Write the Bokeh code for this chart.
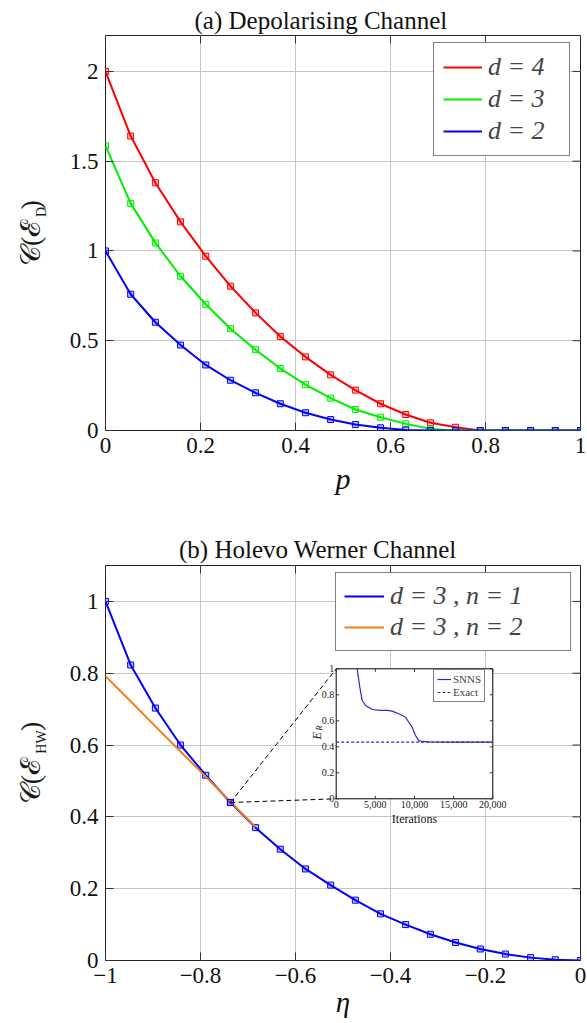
import math
from bokeh.plotting import figure
from bokeh.models import Range1d, FixedTicker, Label, Legend, LegendItem, LinearAxis, Title
from bokeh.layouts import column
from bokeh.embed import file_html
from bokeh.resources import INLINE
from bokeh.core.properties import value

# ------------------------------------------------------------------ data
p_vals = [0.0, 0.053, 0.105, 0.158, 0.211, 0.263, 0.316, 0.368, 0.421, 0.474,
          0.526, 0.579, 0.632, 0.684, 0.737, 0.789, 0.842, 0.895, 0.947, 1.0]
cap_d4 = [2.0, 1.64, 1.38, 1.162, 0.971, 0.804, 0.655, 0.524, 0.41, 0.31,
          0.225, 0.149, 0.089, 0.043, 0.018, 0.0, 0.0, 0.0, 0.0, 0.0]
cap_d3 = [1.585, 1.265, 1.045, 0.859, 0.703, 0.567, 0.45, 0.345, 0.255, 0.18,
          0.117, 0.074, 0.037, 0.009, 0.0, 0.0, 0.0, 0.0, 0.0, 0.0]
cap_d2 = [1.0, 0.759, 0.603, 0.476, 0.365, 0.28, 0.21, 0.149, 0.099, 0.061,
          0.033, 0.015, 0.003, 0.0, 0.0, 0.0, 0.0, 0.0, 0.0, 0.0]
labels_a = ["d = 4", "d = 3", "d = 2"]

eta_vals = [-1.0, -0.947, -0.895, -0.842, -0.789, -0.737, -0.684, -0.632, -0.579, -0.526,
            -0.474, -0.421, -0.368, -0.316, -0.263, -0.211, -0.158, -0.105, -0.053, 0.0]
cap_hw_n1 = [1.0, 0.823, 0.703, 0.6, 0.516, 0.44, 0.37, 0.31, 0.255, 0.21,
             0.168, 0.13, 0.1, 0.073, 0.05, 0.032, 0.018, 0.008, 0.002, 0.0]
eta_n2 = [-1.0, -0.947, -0.895, -0.842, -0.789, -0.737, -0.684]
cap_hw_n2 = [0.792, 0.722, 0.652, 0.582, 0.512, 0.442, 0.372]
labels_b = ["d = 3 , n = 1", "d = 3 , n = 2"]
zoom_eta, zoom_cap = -0.737, 0.44

iters = [2680, 3015, 3320, 3740, 4600, 5660, 6510, 7150, 8210, 8850, 9270,
         9700, 10130, 10550, 10980, 12000, 15000, 20000]
snns = [1.0, 0.859, 0.756, 0.718, 0.687, 0.68, 0.68, 0.674, 0.648, 0.628, 0.589,
        0.551, 0.487, 0.448, 0.441, 0.437, 0.436, 0.436]
exact_val = 0.436

xt_a = [0, 0.2, 0.4, 0.6, 0.8, 1]
xl_a = ["0", "0.2", "0.4", "0.6", "0.8", "1"]
yt_a = [0, 0.5, 1, 1.5, 2]
yl_a = ["0", "0.5", "1", "1.5", "2"]
xt_b = [-1, -0.8, -0.6, -0.4, -0.2, 0]
xl_b = ["\u22121", "\u22120.8", "\u22120.6", "\u22120.4", "\u22120.2", "0"]
yt_b = [0, 0.2, 0.4, 0.6, 0.8, 1]
yl_b = ["0", "0.2", "0.4", "0.6", "0.8", "1"]
it_ticks = [0, 5000, 10000, 15000, 20000]
it_labels = ["0", "5,000", "10,000", "15,000", "20,000"]
er_ticks = [0, 0.2, 0.4, 0.6, 0.8, 1]
er_labels = ["0", "0.2", "0.4", "0.6", "0.8", "1"]

# ------------------------------------------------------------------ layout
SERIF = "Liberation Serif"
RED, GREEN, BLUE, ORANGE = "#ff0000", "#00ee00", "#0000ff", "#f0801a"
W = 587
FL, FR = 105, 580
TICK = 8
H_A = 505
H_B = 1023 - H_A


def geom(top, bot, x0, x1, y0, y1):
    return dict(top=top, bot=bot, x0=x0, x1=x1, y0=y0, y1=y1)


GA = geom(35, 430, 0.0, 1.0, 0.0, 2.2)
GB = geom(565, 960, -1.0, 0.0, 0.0, 1.1)


def dx(g, px):
    return g["x0"] + (px - FL) / (FR - FL) * (g["x1"] - g["x0"])


def dy(g, py):
    return g["y0"] + (g["bot"] - py) / (g["bot"] - g["top"]) * (g["y1"] - g["y0"])


def style_axis(a, ticks, labels):
    a.ticker = FixedTicker(ticks=ticks)
    a.major_label_overrides = {t: l for t, l in zip(ticks, labels)}
    a.axis_line_color = None
    a.major_tick_in = TICK
    a.major_tick_out = 0
    a.major_tick_line_color = "#333333"
    a.minor_tick_line_color = None
    a.major_label_text_font = SERIF
    a.major_label_text_color = "#111111"
    a.major_label_text_font_size = "23px"
    a.major_label_standoff = 7


def label_axis(text, size, standoff):
    a = LinearAxis(ticker=FixedTicker(ticks=[]), axis_line_color=None,
                   major_tick_line_color=None, minor_tick_line_color=None,
                   major_tick_in=0, major_tick_out=0, major_label_standoff=0)
    a.axis_label = text
    a.axis_label_text_font = SERIF
    a.axis_label_text_font_style = "normal"
    a.axis_label_text_font_size = size
    a.axis_label_text_color = "#1a1a1a"
    a.axis_label_standoff = standoff
    return a


def make_fig(g, height, fig_top, xt, xl, yt, yl, title, title_w, title_cx, title_standoff,
             xlabel, xlabel_size, xlabel_standoff, main_label, sub_label):
    f = figure(width=W, height=height,
               x_range=Range1d(g["x0"], g["x1"]), y_range=Range1d(g["y0"], g["y1"]),
               output_backend="svg", toolbar_location=None,
               min_border_left=FL, min_border_right=W - FR,
               min_border_top=g["top"] - fig_top,
               min_border_bottom=fig_top + height - g["bot"])
    f.outline_line_color = "#222222"
    f.outline_line_width = 1
    f.background_fill_color = "white"
    f.border_fill_color = "white"
    style_axis(f.xaxis[0], xt, xl)
    style_axis(f.yaxis[0], yt, yl)
    f.xaxis[0].axis_label = xlabel
    f.xaxis[0].axis_label_text_font = SERIF
    f.xaxis[0].axis_label_text_font_style = "italic"
    f.xaxis[0].axis_label_text_font_size = xlabel_size
    f.xaxis[0].axis_label_text_color = "#111111"
    f.xaxis[0].axis_label_standoff = xlabel_standoff
    # y label: subscript (closer to the ticks = lowered), then the main part
    f.add_layout(label_axis(sub_label, "14px", 18), "left")
    f.add_layout(label_axis(main_label, "28px", -15), "left")
    f.grid.grid_line_color = "#c6c6c6"
    f.grid.grid_line_width = 1
    # inward ticks on the top and right edges
    ty = TICK / (g["bot"] - g["top"]) * (g["y1"] - g["y0"])
    tx = TICK / (FR - FL) * (g["x1"] - g["x0"])
    f.segment(x0=xt, y0=[g["y1"]] * len(xt), x1=xt, y1=[g["y1"] - ty] * len(xt),
              line_color="#333333", line_width=1)
    f.segment(x0=[g["x1"]] * len(yt), y0=yt, x1=[g["x1"] - tx] * len(yt), y1=yt,
              line_color="#333333", line_width=1)
    f.add_layout(Title(text=title, text_font=SERIF, text_font_size="25px",
                       text_font_style="normal", text_color="#111111", align="left",
                       offset=title_cx - title_w / 2 - FL, standoff=title_standoff), "above")
    return f


def legend(items, loc, size, gw, lh, pad, sp, standoff, lw):
    return Legend(items=items, location=loc, label_text_font=SERIF,
                  label_text_font_style="italic", label_text_font_size=size,
                  glyph_width=gw, glyph_height=lh, label_height=lh, label_width=lw,
                  padding=pad, spacing=sp, label_standoff=standoff,
                  border_line_color="black", border_line_width=1,
                  background_fill_color="white", background_fill_alpha=1.0, margin=0)


def add_label(f, g, px, py, text, size, style="normal", align="center",
              baseline="alphabetic", angle=0.0):
    f.add_layout(Label(x=dx(g, px), y=dy(g, py), text=text, text_font=SERIF,
                       text_font_size=size, text_font_style=style, text_align=align,
                       text_baseline=baseline, angle=angle, text_color="#111111"))


EM, TH = "\u2003", "\u2009"

# ------------------------------------------------------------------ (a)
fa = make_fig(GA, H_A, 0, xt_a, xl_a, yt_a, yl_a, "(a) Depolarising Channel", 252, 320, 4,
              "p", "30px", 6, "\U0001D49E(\u2130" + TH * 2 + ")", EM * 3 + "D")
rends = []
for ys, col in zip([cap_d4, cap_d3, cap_d2], [RED, GREEN, BLUE]):
    r = fa.line(p_vals, ys, line_color=col, line_width=2)
    fa.scatter(p_vals, ys, marker="square", size=6, line_color=col, line_width=1,
               fill_color=col, fill_alpha=0.25)
    rends.append(r)
fa.add_layout(legend([LegendItem(label=l, renderers=[r]) for l, r in zip(labels_a, rends)],
                     (433 - FL, GA["bot"] - 156), "26px", 39, 30, 9, 2, 6, 72))

# ------------------------------------------------------------------ (b)
fb = make_fig(GB, H_B, H_A, xt_b, xl_b, yt_b, yl_b, "(b) Holevo Werner Channel", 280, 318.5, 6,
              "\u03b7", "29px", 0, "\U0001D49E(\u2130" + TH * 5 + ")", EM * 3 + "HW")
rb1 = fb.line(eta_vals, cap_hw_n1, line_color=BLUE, line_width=2)
fb.scatter(eta_vals, cap_hw_n1, marker="square", size=6, line_color=BLUE, line_width=1,
           fill_color=BLUE, fill_alpha=0.25)
rb2 = fb.line(eta_n2, cap_hw_n2, line_color=ORANGE, line_width=2)
fb.add_layout(legend([LegendItem(label=l, renderers=[r]) for l, r in zip(labels_b, [rb1, rb2])],
                     (335 - FL, GB["bot"] - 651), "26px", 40, 30, 8, 1, 6, 172))

# ------------------------------------------------------------------ inset
IL, IR, IT, IB = 335.7, 492.3, 668.3, 798.3
bx0, bx1 = dx(GB, IL), dx(GB, IR)
by0, by1 = dy(GB, IB), dy(GB, IT)
IX1, IY1 = 20000.0, 1.0
fb.extra_x_ranges = {"ix": Range1d((GB["x0"] - bx0) / (bx1 - bx0) * IX1,
                                   (GB["x1"] - bx0) / (bx1 - bx0) * IX1)}
fb.extra_y_ranges = {"iy": Range1d((GB["y0"] - by0) / (by1 - by0) * IY1,
                                   (GB["y1"] - by0) / (by1 - by0) * IY1)}
ux = IX1 / (IR - IL)   # inset x units per pixel
uy = IY1 / (IB - IT)   # inset y units per pixel
kw = dict(x_range_name="ix", y_range_name="iy")

fb.segment(x0=[zoom_eta, zoom_eta], y0=[zoom_cap, zoom_cap], x1=[bx0, bx0], y1=[by1, by0],
           line_color="black", line_width=1, line_dash="5 3")
fb.scatter([zoom_eta], [zoom_cap], marker="square", size=6, line_color=BLUE,
           fill_color=BLUE, fill_alpha=0.25)

fb.quad(left=[0], right=[IX1], bottom=[0], top=[IY1], fill_color="white",
        line_color="black", line_width=1, **kw)
tl = 3
fb.segment(x0=it_ticks, y0=[0] * 5, x1=it_ticks, y1=[tl * uy] * 5, line_color="#333", **kw)
fb.segment(x0=it_ticks, y0=[IY1] * 5, x1=it_ticks, y1=[IY1 - tl * uy] * 5, line_color="#333", **kw)
fb.segment(x0=[0] * 6, y0=er_ticks, x1=[tl * ux] * 6, y1=er_ticks, line_color="#333", **kw)
fb.segment(x0=[IX1] * 6, y0=er_ticks, x1=[IX1 - tl * ux] * 6, y1=er_ticks, line_color="#333", **kw)
fb.text(x=it_ticks, y=[-2 * uy] * 5, text=it_labels, text_font=value(SERIF),
        text_font_size="10px", text_align="center", text_baseline="top",
        text_color="#222222", **kw)
fb.text(x=[-2 * ux] * 6, y=er_ticks, text=er_labels, text_font=value(SERIF),
        text_font_size="10px", text_align="right", text_baseline="middle",
        text_color="#222222", **kw)
r_s = fb.line(iters, snns, line_color="#2a2ac8", line_width=1.2, **kw)
r_e = fb.line([0, IX1], [exact_val, exact_val], line_color="#2a2ac8", line_width=1.2,
              line_dash="3 2", **kw)
fb.add_layout(Legend(items=[LegendItem(label="SNNS", renderers=[r_s]),
                            LegendItem(label="Exact", renderers=[r_e])],
                     location=(433 - FL, GB["bot"] - 702), label_text_font=SERIF,
                     label_text_font_size="11px", glyph_width=14, glyph_height=12,
                     label_height=12, padding=3, spacing=1, label_standoff=2,
                     border_line_color="black", border_line_width=1, margin=0,
                     background_fill_color="white", background_fill_alpha=1.0))
add_label(fb, GB, (IL + IR) / 2, 818, "Iterations", "12px", baseline="middle")
add_label(fb, GB, 316, 739, "E", "12px", style="italic", align="left", angle=math.pi / 2)
add_label(fb, GB, 319, 730, "R", "8px", style="italic", align="left", angle=math.pi / 2)

page = column(fa, fb, spacing=0)
open("out.html", "w").write(file_html(page, INLINE))
